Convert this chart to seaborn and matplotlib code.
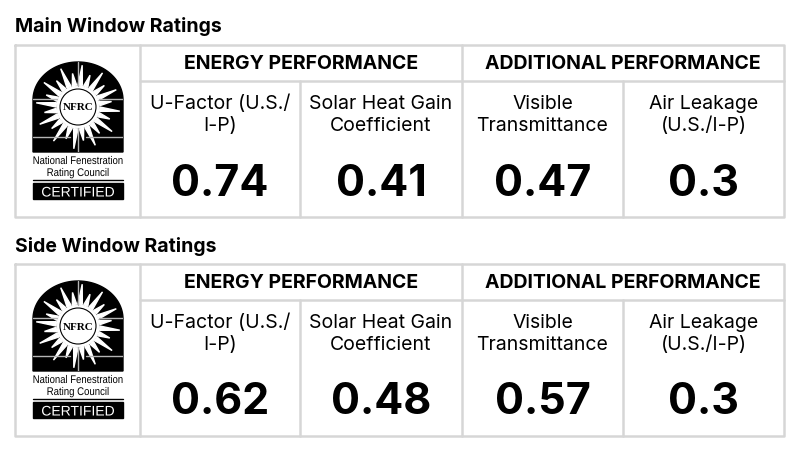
import numpy as np
import matplotlib
matplotlib.use("Agg")
import matplotlib.pyplot as plt
import matplotlib.patches as mpatches
from matplotlib.textpath import TextPath
from matplotlib.font_manager import FontProperties
from matplotlib.transforms import Affine2D
import seaborn as sns

# Chart data
table_titles = ["Main Window Ratings", "Side Window Ratings"]
group_names = ["ENERGY PERFORMANCE", "ADDITIONAL PERFORMANCE"]
metric_labels = [("U-Factor (U.S./", "I-P)"), ("Solar Heat Gain", "Coefficient"),
                 ("Visible", "Transmittance"), ("Air Leakage", "(U.S./I-P)")]
main_values = [0.74, 0.41, 0.47, 0.3]
side_values = [0.62, 0.48, 0.57, 0.3]

sns.set_theme(style="white")
plt.rcParams['font.family'] = ['Inter', 'DejaVu Sans']
plt.rcParams['text.color'] = 'black'

GRID = "#d6d6d6"
col_edges = [15, 140, 300, 462, 623, 784]
table_tops = [45, 264]
title_y = [27, 246]


def narrow_text(ax, s, cx, cy, width, cap_px, color="black", z=6):
    # squeezed text, like the narrow face on the NFRC seal
    tp = TextPath((0, 0), s, size=10, prop=FontProperties(family="Liberation Sans"))
    ext = tp.get_extents()
    sx = width / ext.width
    sy = cap_px / 7.2
    tr = Affine2D().translate(-ext.x0 - ext.width / 2, -3.6).scale(sx, -sy).translate(cx, cy)
    ax.add_patch(mpatches.PathPatch(tr.transform_path(tp), color=color, lw=0, zorder=z))


def draw_logo(ax, top):
    cx, w = 78, 90
    x0 = cx - w / 2
    body_top, body_bot = top + 55, top + 107
    th = np.linspace(np.pi, 0, 60)
    arc = [(cx + 45 * np.cos(t), body_top - 38 * np.sin(t)) for t in th]
    outline = arc + [(x0 + w, body_bot), (x0, body_bot)]
    arch = mpatches.Polygon(outline, closed=True, color="black", zorder=2)
    ax.add_patch(arch)
    # sun rays
    sy = top + 62
    n = 24
    for i in range(n):
        a = 2 * np.pi * i / n + 0.1
        r1 = 22
        r2 = 42 if i % 2 == 0 else 34
        da = 0.1
        pts = [(cx + r1 * np.cos(a - da), sy + r1 * np.sin(a - da)),
               (cx + r2 * np.cos(a), sy + r2 * np.sin(a)),
               (cx + r1 * np.cos(a + da), sy + r1 * np.sin(a + da))]
        ray = mpatches.Polygon(pts, color="white", zorder=3)
        ax.add_patch(ray)
        ray.set_clip_path(arch)
    ax.add_patch(mpatches.Circle((cx, sy), 21, color="white", zorder=4))
    ax.add_patch(mpatches.Circle((cx, sy), 18, fill=False, ec="black", lw=0.8, zorder=5))
    ax.text(cx, sy + 1, "NFRC", ha="center", va="center", fontsize=8, weight="bold",
            family="Liberation Serif", zorder=6)
    # window mullions
    mc = "#b5b5b5"
    for seg in [([cx, cx], [top + 17, sy - 21]), ([cx, cx], [sy + 21, body_bot]),
                ([x0, cx - 21], [top + 54, top + 54]), ([cx + 21, x0 + w], [top + 54, top + 54]),
                ([x0, cx - 8], [top + 92, top + 92]), ([cx + 8, x0 + w], [top + 92, top + 92])]:
        ln, = ax.plot(*seg, color=mc, lw=1, zorder=4)
        ln.set_clip_path(arch)
    # caption
    narrow_text(ax, "National Fenestration", cx, top + 115, 89, 8)
    narrow_text(ax, "Rating Council", cx, top + 127, 61, 8)
    ax.plot([x0, x0 + w], [top + 135, top + 135], color="black", lw=1, zorder=6)
    ax.add_patch(mpatches.Rectangle((x0, top + 138), w, 16, color="black", zorder=6))
    narrow_text(ax, "CERTIFIED", cx, top + 146.5, 72, 10, color="white", z=7)


fig = plt.figure(figsize=(8, 4.53), dpi=100)
ax = fig.add_axes([0, 0, 1, 1])
ax.set_xlim(0, 800)
ax.set_ylim(453, 0)
ax.axis("off")

for t, (title, vals) in enumerate(zip(table_titles, [main_values, side_values])):
    top = table_tops[t]
    bot = top + 172
    hdr = top + 36
    ax.text(15, title_y[t], title, ha="left", va="center", fontsize=14, weight="bold")
    lw = 1.8
    ax.plot([15, 784, 784, 15, 15], [top, top, bot, bot, top], color=GRID, lw=lw, zorder=1)
    ax.plot([140, 140], [top, bot], color=GRID, lw=lw, zorder=1)
    ax.plot([462, 462], [top, bot], color=GRID, lw=lw, zorder=1)
    ax.plot([300, 300], [hdr, bot], color=GRID, lw=lw, zorder=1)
    ax.plot([623, 623], [hdr, bot], color=GRID, lw=lw, zorder=1)
    ax.plot([140, 784], [hdr, hdr], color=GRID, lw=lw, zorder=1)
    for g, name in enumerate(group_names):
        gx = (col_edges[1 + 2 * g] + col_edges[3 + 2 * g]) / 2
        ax.text(gx, top + 19, name, ha="center", va="center", fontsize=14, weight="bold")
    for i, (lab, v) in enumerate(zip(metric_labels, vals)):
        mx = (col_edges[i + 1] + col_edges[i + 2]) / 2
        ax.text(mx, top + 59, lab[0], ha="center", va="center", fontsize=14)
        ax.text(mx, top + 81, lab[1], ha="center", va="center", fontsize=14)
        ax.text(mx, top + 139, f"{v:g}", ha="center", va="center", fontsize=31, weight="bold")
    draw_logo(ax, top)

fig.savefig("out.png", dpi=100, facecolor="white")
